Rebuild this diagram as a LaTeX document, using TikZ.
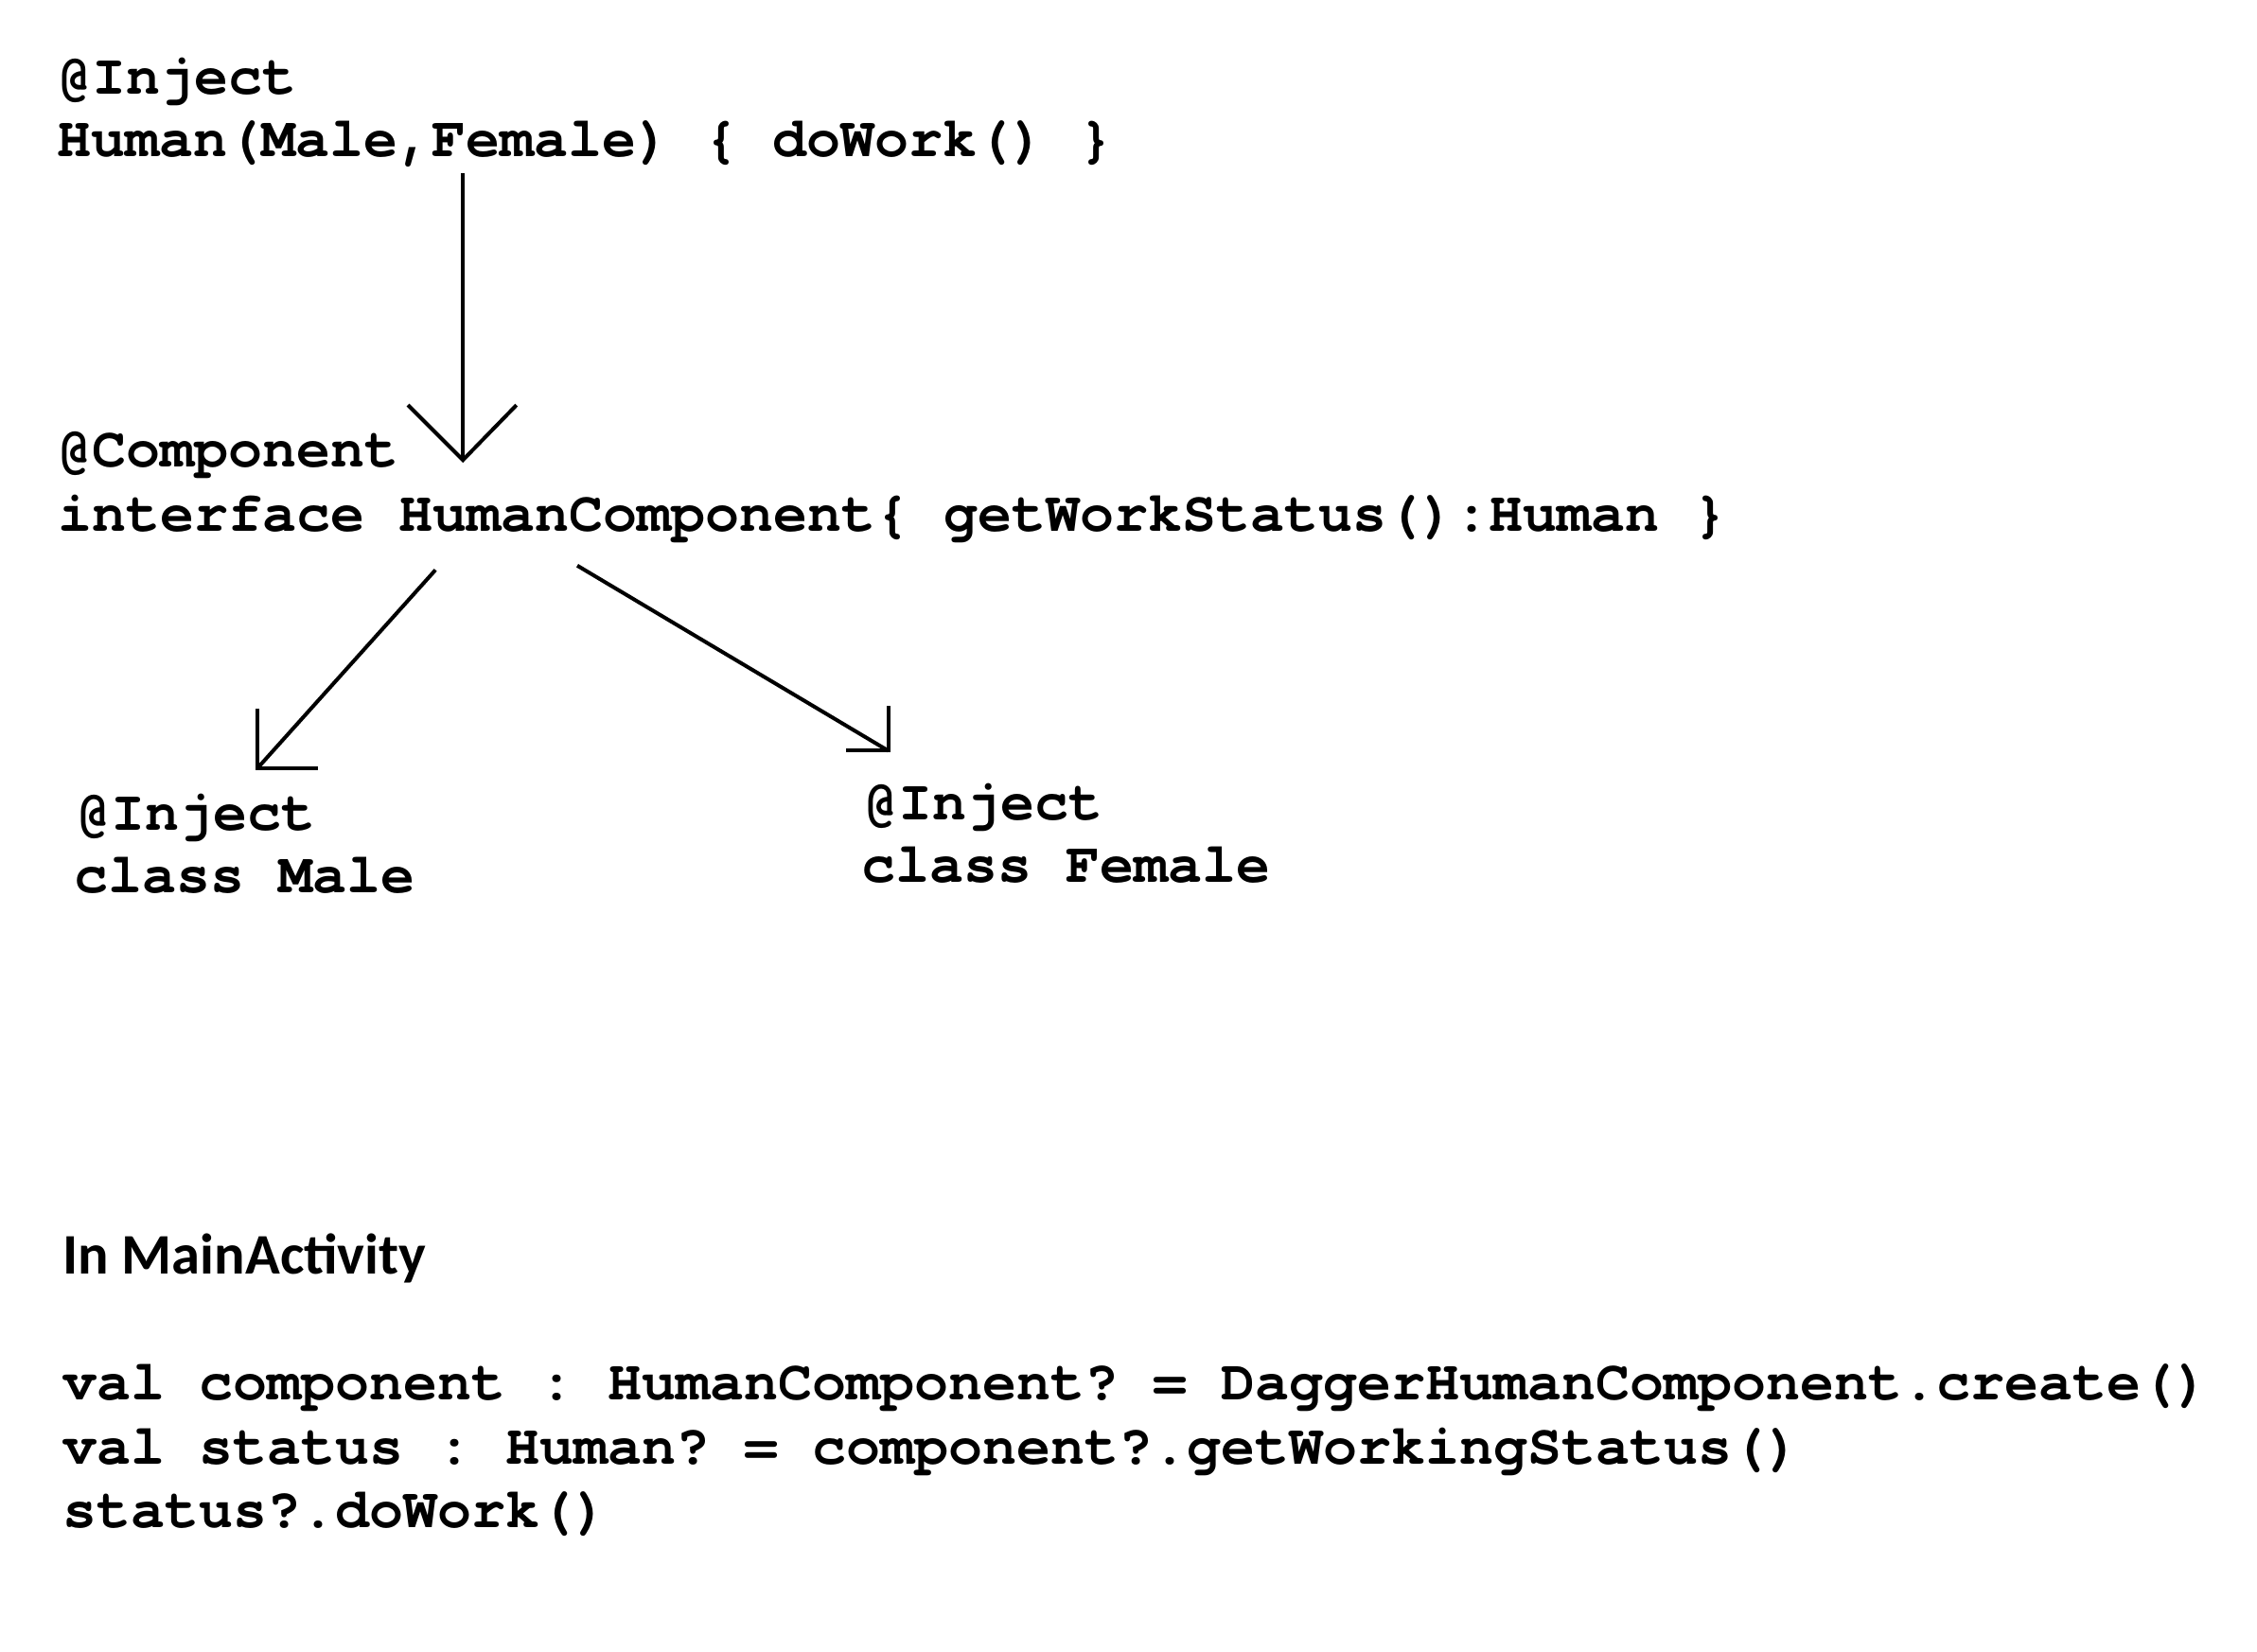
\documentclass[tikz,border=0pt]{standalone}
\usepackage{fontspec}
\setmonofont{texgyrecursor-regular.otf}[BoldFont=texgyrecursor-bold.otf]
\newfontfamily\calib{Carlito}
\begin{document}
\begin{tikzpicture}[x=0.4587pt,y=-0.4587pt,
  code/.style={font=\ttfamily\bfseries\fontsize{18}{20}\selectfont, anchor=base west, inner sep=0pt},
  heading/.style={font=\calib\bfseries\fontsize{18.2}{22}\selectfont, anchor=base west, inner sep=0pt},
  conn/.style={line width=1.2pt, line join=miter, line cap=butt}]
\useasboundingbox (0,0) rectangle (1560,1141.4);
\fill[white] (0,0) rectangle (1560,1141.4);
% top block
\node[code] (hinj) at (40,65) {@Inject};
\node[code] (human) at (39,108) {Human(Male,Female) \{ doWork() \}};
% component block
\node[code] (cann) at (40,323) {@Component};
\node[code] (comp) at (40,367) {interface HumanComponent\{ getWorkStatus():Human \}};
% male / female
\node[code] (minj) at (53,574) {@Inject};
\node[code] (male) at (51,617) {class Male};
\node[code] (finj) at (597,567) {@Inject};
\node[code] (female) at (595,610) {class Female};
% main activity
\node[heading] (mainact) at (43,881) {In MainActivity};
\node[code] (l1) at (43,968) {val component : HumanComponent? = DaggerHumanComponent.create()};
\node[code] (l2) at (43,1012) {val status : Human? = component?.getWorkingStatus()};
\node[code] (l3) at (43,1056) {status?.doWork()};
% connectors
\coordinate (a1s) at (320,120);
\coordinate (a1e) at (320,318);
\coordinate (a2s) at (301,394);
\coordinate (a2e) at (178,531);
\coordinate (a3s) at (399,391);
\coordinate (a3e) at (614,519);
\draw[conn] (a1s) -- (a1e);
\draw[conn] ([shift={(-38,-38)}]a1e) -- (a1e) -- ([shift={(37,-38)}]a1e);
\draw[conn] (a2s) -- (a2e);
\draw[conn] ([shift={(0,-41)}]a2e) -- (a2e) -- ([shift={(42,0)}]a2e);
\draw[conn] (a3s) -- (a3e);
\draw[conn] ([shift={(0,-31)}]a3e) -- (a3e) -- ([shift={(-29,0)}]a3e);
\end{tikzpicture}
\end{document}
